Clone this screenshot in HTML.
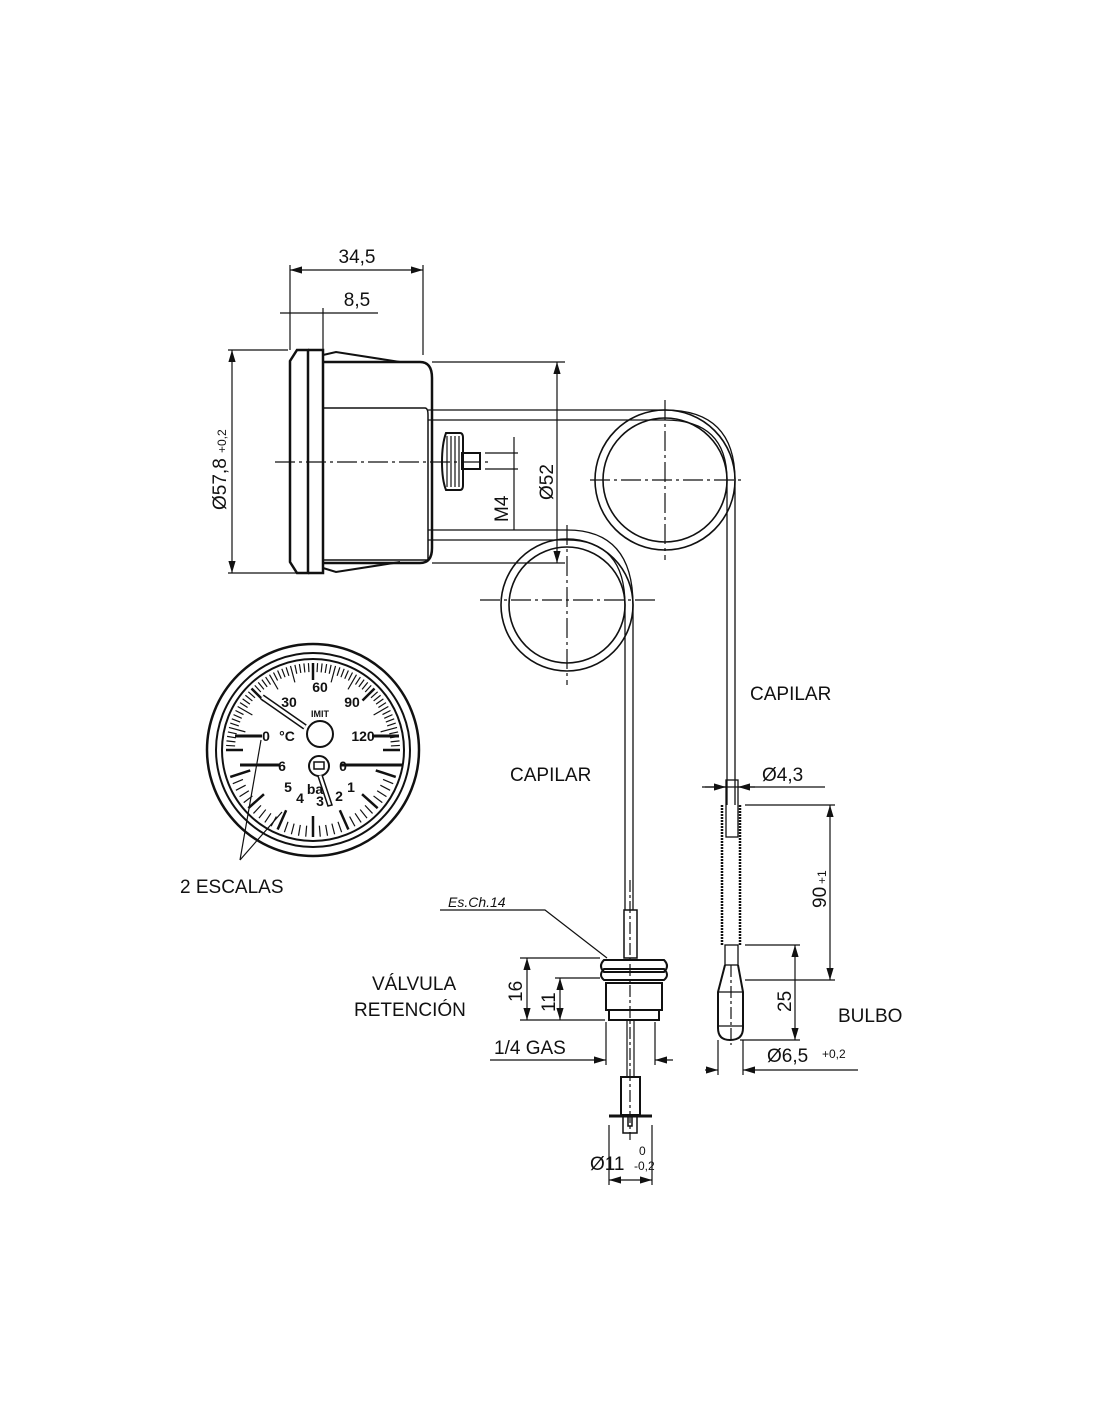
<!DOCTYPE html>
<html><head><meta charset="utf-8"><style>
html,body{margin:0;padding:0;background:#fff}
svg{display:block}
text{font-family:"Liberation Sans",sans-serif;fill:#111}
</style></head><body>
<svg id="s" width="1100" height="1422" viewBox="0 0 1100 1422" xmlns="http://www.w3.org/2000/svg">
<defs>
<marker id="a" viewBox="0 0 10 6" refX="10" refY="3" markerWidth="10" markerHeight="6" orient="auto-start-reverse"><path d="M0,0 L10,3 L0,6z" fill="#111"/></marker>
</defs>
<g stroke="#111" fill="none" stroke-width="1.2">
<line x1="290" y1="265" x2="290" y2="350"/><line x1="423" y1="265" x2="423" y2="355"/>
<line x1="290" y1="270" x2="423" y2="270" marker-start="url(#a)" marker-end="url(#a)"/>
<line x1="323" y1="308" x2="323" y2="352"/>
<line x1="280" y1="313" x2="378" y2="313"/>
<line x1="228" y1="350" x2="288" y2="350"/><line x1="228" y1="573" x2="300" y2="573"/>
<line x1="232" y1="350" x2="232" y2="573" marker-start="url(#a)" marker-end="url(#a)"/>
<line x1="432" y1="362" x2="565" y2="362"/><line x1="432" y1="563" x2="565" y2="563"/>
<line x1="557" y1="362" x2="557" y2="563" marker-start="url(#a)" marker-end="url(#a)"/>
<line x1="485" y1="453" x2="518" y2="453"/><line x1="485" y1="469" x2="518" y2="469"/>
<line x1="514" y1="437" x2="514" y2="530"/>
<path d="M297,350 L308,350 L308,573 L297,573 L290,562 L290,361 Z" stroke-width="2.5"/>
<path d="M308,350 L323,350 L323,573 L308,573" stroke-width="2.5"/>
<path d="M323,355 L336,352 L400,362 M323,568 L336,572 L400,562" stroke-width="2"/>
<path d="M323,362 L420,362 Q432,362 432,378 L432,548 Q432,563 420,563 L323,563" stroke-width="2.5"/>
<path d="M323,408 L425,408 Q428,408 428,415 L428,560 L323,560" stroke-width="1.5"/>
<line x1="323" y1="365" x2="323" y2="560" stroke-width="1.5"/>
<path d="M446,433 H460 Q463,433 463,438 V485 Q463,490 460,490 H446 Q442,480 442,462 Q442,444 446,433 Z" stroke-width="2"/>
<path d="M447,436 V487 M451,436 V487 M455,436 V487 M459,436 V487"/>
<rect x="462" y="453" width="18" height="16" stroke-width="2"/>
<line x1="275" y1="462" x2="490" y2="462" stroke-dasharray="20,4,3,4"/>
<path d="M428,410 H665 M428,420 H665" stroke-width="1.3"/>
<path d="M428,530 H567 M428,540 H567" stroke-width="1.3"/>
<circle cx="665" cy="480" r="70" stroke-width="1.6"/>
<circle cx="665" cy="480" r="62" stroke-width="1.6"/>
<path d="M665,410 Q735,410 735,480 V805 M665,420 Q727,420 727,480 V805" stroke-width="1.3"/>
<line x1="590" y1="480" x2="745" y2="480" stroke-dasharray="20,4,3,4"/>
<line x1="665" y1="400" x2="665" y2="560" stroke-dasharray="20,4,3,4"/>
<circle cx="567" cy="605" r="66" stroke-width="1.6"/>
<circle cx="567" cy="605" r="58" stroke-width="1.6"/>
<path d="M567,530 Q633,530 633,605 V910 M567,540 Q625,540 625,605 V910" stroke-width="1.3"/>
<line x1="480" y1="600" x2="655" y2="600" stroke-dasharray="20,4,3,4"/>
<line x1="567" y1="525" x2="567" y2="685" stroke-dasharray="20,4,3,4"/>
<rect x="624" y="910" width="13" height="48" stroke-width="1.5"/>
<line x1="630" y1="880" x2="630" y2="1140" stroke-dasharray="12,3,3,3"/>
<path d="M604,960 H664 Q670,966 664,972 H604 Q598,966 604,960 Z" stroke-width="2"/>
<path d="M604,969 H664 Q670,975 664,980 H604 Q598,975 604,969 Z" stroke-width="2"/>
<rect x="606" y="983" width="56" height="27" stroke-width="2"/>
<rect x="609" y="1010" width="50" height="10" stroke-width="2"/>
<path d="M627,1020 V1077 M634,1020 V1077"/>
<rect x="621" y="1077" width="19" height="38" stroke-width="2"/>
<line x1="609" y1="1116" x2="652" y2="1116" stroke-width="3"/>
<path d="M623,1117 V1133 H637 V1117 M628,1117 V1126 H632 V1117" stroke-width="1.5"/>
<line x1="520" y1="958" x2="600" y2="958"/><line x1="520" y1="1020" x2="605" y2="1020"/>
<line x1="555" y1="978" x2="600" y2="978"/>
<line x1="527" y1="958" x2="527" y2="1020" marker-start="url(#a)" marker-end="url(#a)"/>
<line x1="560" y1="978" x2="560" y2="1020" marker-start="url(#a)" marker-end="url(#a)"/>
<line x1="606" y1="1022" x2="606" y2="1065"/><line x1="655" y1="1022" x2="655" y2="1065"/>
<line x1="490" y1="1060" x2="606" y2="1060" marker-end="url(#a)"/>
<line x1="655" y1="1060" x2="673" y2="1060" marker-start="url(#a)"/>
<line x1="609" y1="1125" x2="609" y2="1185"/><line x1="652" y1="1125" x2="652" y2="1185"/>
<line x1="609" y1="1180" x2="652" y2="1180" marker-start="url(#a)" marker-end="url(#a)"/>
<path d="M440,910 H545 L607,958"/>
<path d="M722,805 V945 M740,805 V945" stroke-width="2.5" stroke-dasharray="2,1"/>
<rect x="726" y="780" width="12" height="57" stroke-width="1.3"/>
<rect x="725" y="945" width="13" height="20" stroke-width="1.3"/>
<path d="M725,965 L718,992 V1028 Q718,1040 730,1040 Q743,1040 743,1028 V992 L738,965" stroke-width="2"/>
<line x1="718" y1="992" x2="743" y2="992"/><line x1="718" y1="1026" x2="743" y2="1026"/>
<line x1="731" y1="965" x2="731" y2="1045" stroke-dasharray="12,3,3,3"/>
<line x1="702" y1="787" x2="825" y2="787"/>
<line x1="705" y1="787" x2="726" y2="787" marker-end="url(#a)"/>
<line x1="738" y1="787" x2="755" y2="787" marker-start="url(#a)"/>
<line x1="745" y1="805" x2="835" y2="805"/>
<line x1="830" y1="805" x2="830" y2="980" marker-start="url(#a)" marker-end="url(#a)"/>
<line x1="745" y1="980" x2="835" y2="980"/>
<line x1="745" y1="945" x2="800" y2="945"/><line x1="740" y1="1040" x2="800" y2="1040"/>
<line x1="795" y1="945" x2="795" y2="1040" marker-start="url(#a)" marker-end="url(#a)"/>
<line x1="718" y1="1040" x2="718" y2="1075"/><line x1="743" y1="1040" x2="743" y2="1075"/>
<line x1="705" y1="1070" x2="718" y2="1070" marker-end="url(#a)"/>
<line x1="743" y1="1070" x2="858" y2="1070" marker-start="url(#a)"/>
<circle cx="313" cy="750" r="106" stroke-width="2.5"/>
<circle cx="313" cy="750" r="97" stroke-width="2"/>
<circle cx="313" cy="750" r="91" stroke-width="2"/>
<g id="ticks" stroke-width="1.5"></g>
<line x1="235" y1="736" x2="262" y2="736" stroke-width="3"/>
<line x1="372" y1="736" x2="399" y2="736" stroke-width="3"/>
<line x1="240" y1="765" x2="280" y2="765" stroke-width="3"/>
<line x1="340" y1="765" x2="402" y2="765" stroke-width="3"/>
<line x1="262" y1="697" x2="305" y2="727" stroke-width="6"/>
<line x1="262" y1="697" x2="305" y2="727" stroke-width="3" stroke="#fff"/>
<circle cx="320" cy="734" r="13" stroke-width="2" fill="#fff"/>
<circle cx="319" cy="766" r="10" stroke-width="2" fill="#fff"/>
<rect x="314" y="762" width="10" height="7" stroke-width="1.5"/>
<path d="M322,775 L332,805 L328,806 L318,776" stroke-width="1.5" fill="#fff"/>
<line x1="261" y1="740" x2="240" y2="860"/>
<line x1="282" y1="812" x2="240" y2="860"/>
</g>
<g stroke="none">
<text x="357" y="263" font-size="19" text-anchor="middle">34,5</text>
<text x="357" y="306" font-size="19" text-anchor="middle">8,5</text>
<text transform="translate(226,510) rotate(-90)" font-size="19">Ø57,8</text>
<text transform="translate(226,453) rotate(-90)" font-size="12">+0,2</text>
<text transform="translate(553,500) rotate(-90)" font-size="19">Ø52</text>
<text transform="translate(508,522) rotate(-90)" font-size="19">M4</text>
<text x="750" y="700" font-size="19">CAPILAR</text>
<text x="510" y="781" font-size="19">CAPILAR</text>
<text x="762" y="781" font-size="19">Ø4,3</text>
<text transform="translate(826,908) rotate(-90)" font-size="19">90</text>
<text transform="translate(826,884) rotate(-90)" font-size="12">+1</text>
<text transform="translate(791,1012) rotate(-90)" font-size="19">25</text>
<text x="838" y="1022" font-size="19">BULBO</text>
<text x="767" y="1062" font-size="19">Ø6,5</text>
<text x="822" y="1058" font-size="12">+0,2</text>
<text x="448" y="907" font-size="14" font-style="italic" font-family="Liberation Mono">Es.Ch.14</text>
<text x="372" y="990" font-size="19">VÁLVULA</text>
<text x="354" y="1016" font-size="19">RETENCIÓN</text>
<text transform="translate(522,1002) rotate(-90)" font-size="19">16</text>
<text transform="translate(555,1012) rotate(-90)" font-size="19">11</text>
<text x="494" y="1054" font-size="19">1/4 GAS</text>
<text x="590" y="1170" font-size="19">Ø11</text>
<text x="639" y="1155" font-size="12">0</text>
<text x="634" y="1170" font-size="12">-0,2</text>
<text x="180" y="893" font-size="19">2 ESCALAS</text>
<g font-size="14" font-weight="bold" font-family="Liberation Mono" text-anchor="middle">
<text x="320" y="692">60</text><text x="289" y="707">30</text><text x="352" y="707">90</text>
<text x="266" y="741">0</text><text x="287" y="741">°C</text><text x="363" y="741">120</text>
<text x="282" y="771">6</text><text x="288" y="792">5</text><text x="300" y="803">4</text>
<text x="320" y="806">3</text><text x="339" y="801">2</text><text x="351" y="792">1</text>
<text x="315" y="794">ba</text><text x="343" y="771">0</text>
<text x="320" y="717" font-size="9">IMIT</text>
</g>
</g>
</svg>
<script>
var g=document.getElementById('ticks'),cx=313,cy=750,ns="http://www.w3.org/2000/svg";
function t(a,r1,r2,w){var l=document.createElementNS(ns,'line');var c=Math.cos(a),s=Math.sin(a);
l.setAttribute('x1',cx+r1*c);l.setAttribute('y1',cy+r1*s);l.setAttribute('x2',cx+r2*c);l.setAttribute('y2',cy+r2*s);if(w)l.setAttribute('stroke-width',w);g.appendChild(l);}
for(var i=0;i<=60;i++){var a=Math.PI+i*Math.PI/60;t(a,(i%5==0)?70:78,87,(i%15==0)?2.5:1.2);}
for(var i=0;i<=30;i++){var a=Math.PI*0.1+i*Math.PI*0.8/30;t(a,(i%5==0)?66:76,87,(i%5==0)?2.5:1.2);}
</script>
</body></html>
